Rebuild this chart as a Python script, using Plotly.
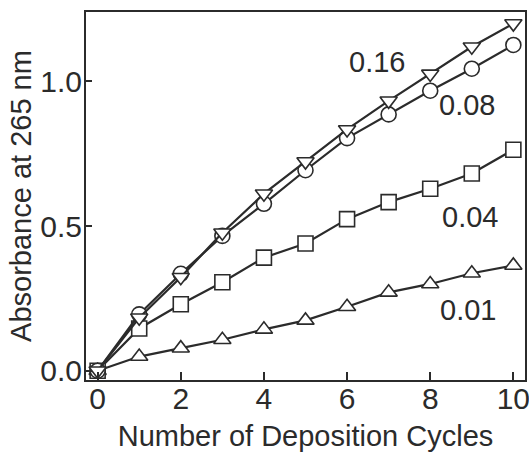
import plotly.graph_objects as go

cycles = [0, 1, 2, 3, 4, 5, 6, 7, 8, 9, 10]
abs_016 = [0.0, 0.183, 0.323, 0.477, 0.612, 0.723, 0.834, 0.933, 1.026, 1.12, 1.20]
abs_008 = [0.0, 0.195, 0.335, 0.466, 0.577, 0.693, 0.804, 0.886, 0.968, 1.044, 1.126]
abs_004 = [0.0, 0.146, 0.23, 0.306, 0.391, 0.44, 0.524, 0.583, 0.629, 0.682, 0.764]
abs_001 = [0.0, 0.049, 0.078, 0.107, 0.143, 0.174, 0.221, 0.271, 0.30, 0.337, 0.364]

labels = ["0.16", "0.08", "0.04", "0.01"]
label_x = [6.71, 8.88, 8.95, 8.9]
label_y = [1.068, 0.92, 0.532, 0.21]

x_ticks = [0, 2, 4, 6, 8, 10]
y_ticks = [0.0, 0.5, 1.0]
y_tick_text = ["0.0", "0.5", "1.0"]

FONT = "Liberation Sans, Arial, sans-serif"
INK = "#2b2b2b"

series = [
    (abs_001, "triangle-up"),
    (abs_004, "square"),
    (abs_008, "circle"),
    (abs_016, "triangle-down"),
]

fig = go.Figure()
for ys, sym in series:
    fig.add_trace(go.Scatter(
        x=cycles, y=ys, mode="lines+markers",
        line=dict(color=INK, width=2.2),
        marker=dict(symbol=sym, size=15, color="white",
                    line=dict(color=INK, width=1.6)),
        showlegend=False,
    ))

for t, xx, yy in zip(labels, label_x, label_y):
    fig.add_annotation(x=xx, y=yy, text=t, showarrow=False,
                       font=dict(family=FONT, size=29, color=INK),
                       xanchor="center", yanchor="middle")

axis_common = dict(
    showline=True, mirror=True, linecolor=INK, linewidth=2,
    ticks="inside", tickcolor=INK, tickwidth=2,
    showgrid=False, zeroline=False,
    tickfont=dict(family=FONT, size=30, color=INK),
    ticklabeloverflow="allow",
)

fig.update_xaxes(range=[-0.28, 10.28], tickvals=x_ticks, ticklen=8,
                 ticklabelstandoff=-9,
                 title=dict(text="Number of Deposition Cycles",
                            font=dict(family=FONT, size=29, color=INK),
                            standoff=13),
                 **axis_common)
fig.update_yaxes(range=[-0.032, 1.24], tickvals=y_ticks, ticktext=y_tick_text,
                 ticklen=6, ticklabelstandoff=-4,
                 title=dict(text="Absorbance at 265 nm",
                            font=dict(family=FONT, size=29, color=INK),
                            standoff=0),
                 **axis_common)

fig.update_layout(
    width=529, height=452,
    margin=dict(l=86, r=4, t=12, b=72, autoexpand=False),
    paper_bgcolor="white", plot_bgcolor="white",
    font=dict(family=FONT, color=INK),
)

fig.write_html("out.html")
